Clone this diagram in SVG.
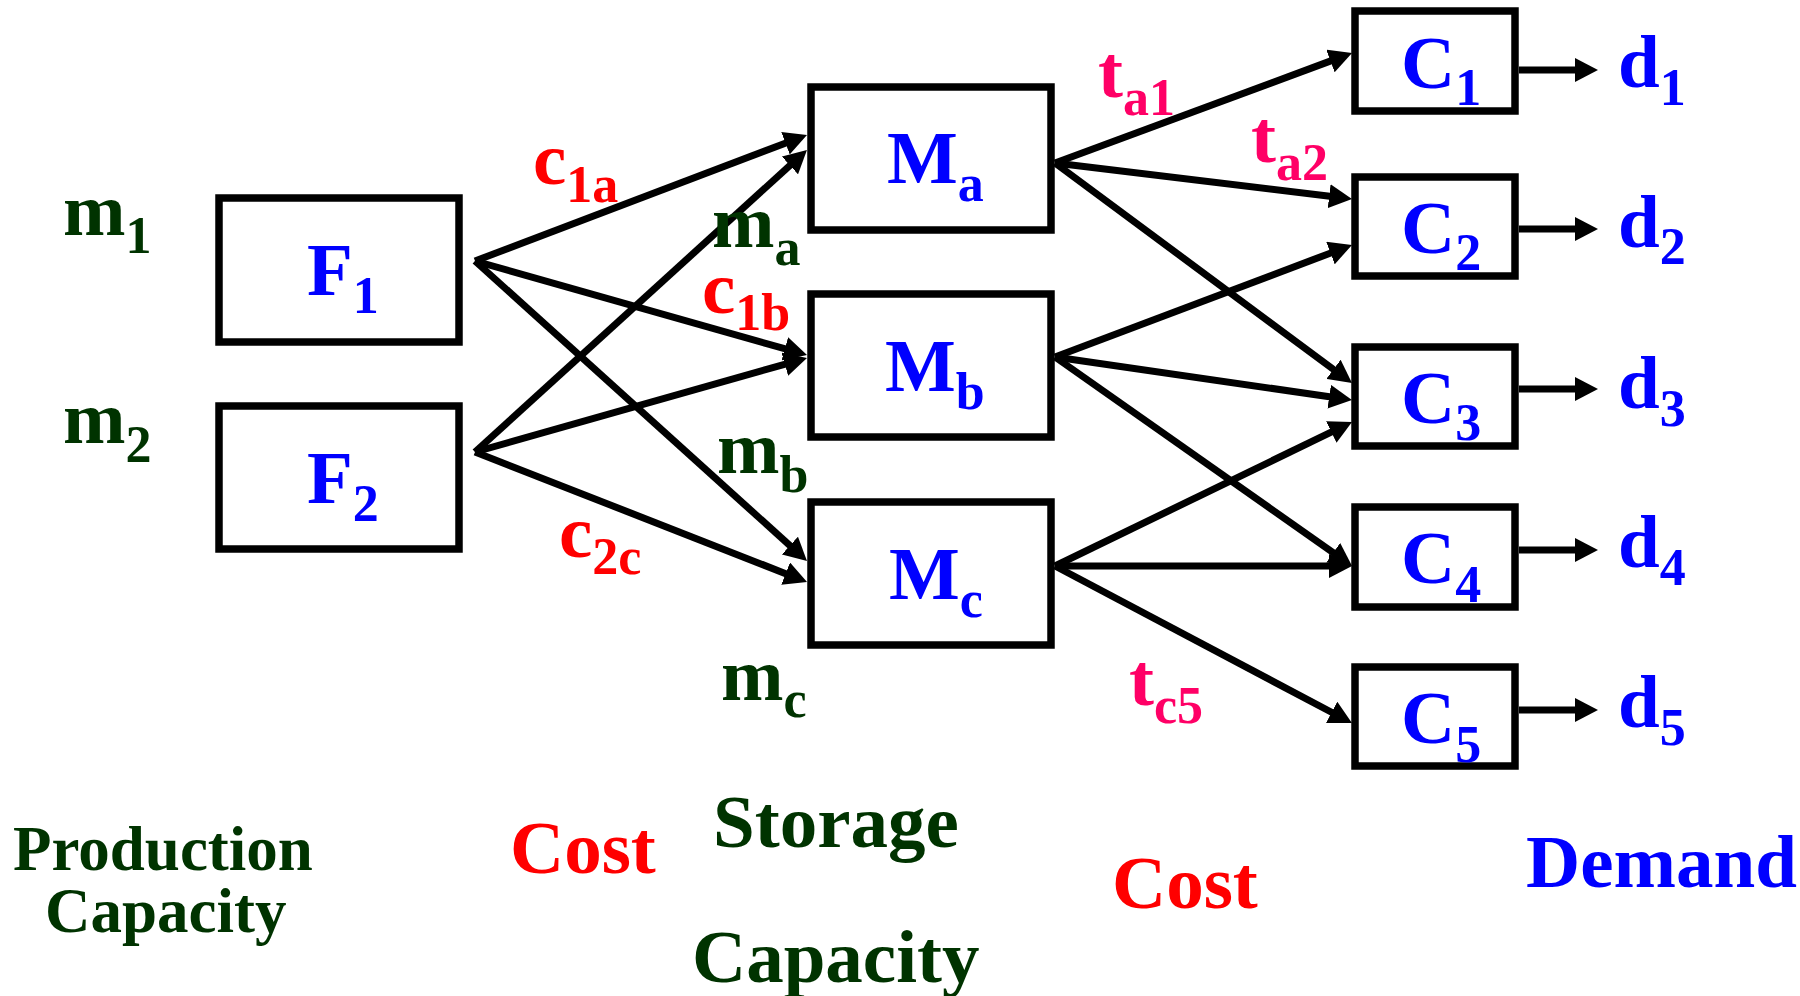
<svg xmlns="http://www.w3.org/2000/svg" width="1800" height="996" viewBox="0 0 1800 996">
<style>
.box{fill:#fff;stroke:#000;stroke-width:7.5}
.ln{stroke:#000;stroke-width:7;fill:none;marker-end:url(#ah)}
text{font-family:"Liberation Serif","Times New Roman",serif;font-weight:bold;font-size:75px}
.sub{font-size:52px}
.blue{fill:#0000ff}
.green{fill:#003300}
.red{fill:#ff0000}
.pink{fill:#ff0066}
</style>
<defs>
<marker id="ah" markerUnits="userSpaceOnUse" markerWidth="23" markerHeight="24" refX="9" refY="12" orient="auto" viewBox="0 0 23 24">
<path d="M0,0 L23,12 L0,24 z" fill="#000"/>
</marker>
</defs>
<rect width="1800" height="996" fill="#fff"/>
<g id="connectors">
<line class="ln" x1="475" y1="261" x2="793.9" y2="140"/>
<line class="ln" x1="475" y1="261" x2="793.5" y2="351.2"/>
<line class="ln" x1="475" y1="261" x2="796.6" y2="551.6"/>
<line class="ln" x1="475" y1="452" x2="796.6" y2="159.4"/>
<line class="ln" x1="475" y1="452" x2="793.5" y2="361.8"/>
<line class="ln" x1="475" y1="452" x2="794" y2="576.9"/>
<line class="ln" x1="1055" y1="163" x2="1338.9" y2="57.9"/>
<line class="ln" x1="1055" y1="163" x2="1338.1" y2="197.3"/>
<line class="ln" x1="1055" y1="163" x2="1340.7" y2="374.7"/>
<line class="ln" x1="1055" y1="357" x2="1338.9" y2="249.9"/>
<line class="ln" x1="1055" y1="357" x2="1338.1" y2="398"/>
<line class="ln" x1="1055" y1="357" x2="1340.6" y2="557.9"/>
<line class="ln" x1="1055" y1="566" x2="1339.4" y2="428.1"/>
<line class="ln" x1="1055" y1="566" x2="1338" y2="566"/>
<line class="ln" x1="1055" y1="566" x2="1339.6" y2="716.5"/>
<line class="ln" x1="1519" y1="70" x2="1584" y2="70"/>
<line class="ln" x1="1519" y1="229" x2="1584" y2="229"/>
<line class="ln" x1="1519" y1="389" x2="1584" y2="389"/>
<line class="ln" x1="1519" y1="550" x2="1584" y2="550"/>
<line class="ln" x1="1519" y1="710" x2="1584" y2="710"/>
</g>
<g id="F1"><rect class="box" x="219" y="198" width="240" height="144"/><text class="blue" x="307" y="295">F<tspan class="sub" y="313">1</tspan></text></g>
<g id="F2"><rect class="box" x="219" y="406" width="240" height="143"/><text class="blue" x="307" y="503">F<tspan class="sub" y="521">2</tspan></text></g>
<g id="Ma"><rect class="box" x="811" y="87" width="240" height="143"/><text class="blue" x="887" y="183">M<tspan class="sub" y="201">a</tspan></text></g>
<g id="Mb"><rect class="box" x="811" y="294" width="240" height="143"/><text class="blue" x="885" y="391">M<tspan class="sub" y="409">b</tspan></text></g>
<g id="Mc"><rect class="box" x="811" y="502" width="240" height="143"/><text class="blue" x="889" y="599">M<tspan class="sub" y="617">c</tspan></text></g>
<g id="C1"><rect class="box" x="1355" y="11" width="160" height="100"/><text class="blue" x="1401" y="88">C<tspan class="sub" y="105">1</tspan></text></g>
<g id="C2"><rect class="box" x="1355" y="177" width="160" height="99"/><text class="blue" x="1401" y="253">C<tspan class="sub" y="270">2</tspan></text></g>
<g id="C3"><rect class="box" x="1355" y="347" width="160" height="99"/><text class="blue" x="1401" y="423">C<tspan class="sub" y="440">3</tspan></text></g>
<g id="C4"><rect class="box" x="1355" y="507" width="160" height="100"/><text class="blue" x="1401" y="583">C<tspan class="sub" y="602">4</tspan></text></g>
<g id="C5"><rect class="box" x="1355" y="667" width="160" height="99"/><text class="blue" x="1401" y="743">C<tspan class="sub" y="762">5</tspan></text></g>
<g id="labels">
<text class="green" x="63" y="235">m<tspan class="sub" y="253">1</tspan></text>
<text class="green" x="63" y="443">m<tspan class="sub" y="462">2</tspan></text>
<text class="red" x="533" y="184">c<tspan class="sub" y="202">1a</tspan></text>
<text class="red" x="702" y="313">c<tspan class="sub" y="330">1b</tspan></text>
<text class="red" x="559" y="557">c<tspan class="sub" y="574">2c</tspan></text>
<text class="green" x="712" y="247">m<tspan class="sub" y="265">a</tspan></text>
<text class="green" x="717" y="473">m<tspan class="sub" y="492">b</tspan></text>
<text class="green" x="721" y="700">m<tspan class="sub" y="717">c</tspan></text>
<text class="pink" x="1098" y="97">t<tspan class="sub" y="115">a1</tspan></text>
<text class="pink" x="1251" y="162">t<tspan class="sub" y="180">a2</tspan></text>
<text class="pink" x="1129" y="705">t<tspan class="sub" y="723">c5</tspan></text>
<text class="blue" x="1618" y="87">d<tspan class="sub" y="105">1</tspan></text>
<text class="blue" x="1618" y="247">d<tspan class="sub" y="264">2</tspan></text>
<text class="blue" x="1618" y="408">d<tspan class="sub" y="426">3</tspan></text>
<text class="blue" x="1618" y="567">d<tspan class="sub" y="585">4</tspan></text>
<text class="blue" x="1618" y="727">d<tspan class="sub" y="745">5</tspan></text>
<text class="green" x="13" y="870" style="font-size:63px">Production</text>
<text class="green" x="45" y="932" style="font-size:63px">Capacity</text>
<text class="red" x="510" y="873">Cost</text>
<text class="green" x="713" y="847">Storage</text>
<text class="green" x="692" y="982">Capacity</text>
<text class="red" x="1112" y="908">Cost</text>
<text class="blue" x="1526" y="887">Demand</text>
</g>
</svg>
